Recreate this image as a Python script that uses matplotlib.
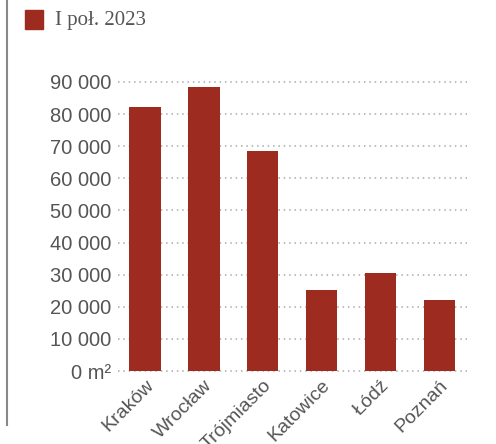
import matplotlib.pyplot as plt
import matplotlib.transforms as mtransforms
from matplotlib.lines import Line2D
from matplotlib.patches import Rectangle

cities = ["Kraków", "Wrocław", "Trójmiasto", "Katowice", "Łódź", "Poznań"]
values = [82200, 88500, 68500, 25300, 30600, 22200]
yticks = [0, 10000, 20000, 30000, 40000, 50000, 60000, 70000, 80000, 90000]
ytick_labels = ["0 m²", "10 000", "20 000", "30 000", "40 000", "50 000",
                "60 000", "70 000", "80 000", "90 000"]
legend_label = "I poł. 2023"

bar_color = "#9e2b1f"
text_color = "#555555"

fig = plt.figure(figsize=(4.96, 4.44), dpi=100)
ax = fig.add_axes([118 / 496, 73 / 444, 349 / 496, 289 / 444])

x = range(len(cities))
ax.bar(x, values, width=0.53, color=bar_color, zorder=3)

ax.set_xlim(-0.46, 5.47)
ax.set_ylim(0, 90000)
ax.set_yticks(yticks)
ax.set_yticklabels(ytick_labels, fontsize=14.5, color=text_color, family="Liberation Sans")
ax.set_xticks(list(x))
ax.set_xticklabels(cities, fontsize=14, color=text_color, family="Liberation Sans",
                   rotation=45, ha="right", rotation_mode="anchor")
offset = mtransforms.ScaledTranslation(9 / 100, 0, fig.dpi_scale_trans)
for lab in ax.get_xticklabels():
    lab.set_transform(lab.get_transform() + offset)

ax.tick_params(axis="both", length=0)
ax.tick_params(axis="y", pad=5)
ax.tick_params(axis="x", pad=4)
for s in ax.spines.values():
    s.set_visible(False)
ax.grid(axis="y", color="#aaaaaa", linestyle=(0, (1, 2.5)), linewidth=1.1, zorder=0)
for gl in ax.get_ygridlines():
    gl.set_clip_on(False)

# left vertical rule
fig.add_artist(Line2D([7 / 496, 7 / 496], [1.0, (444 - 425) / 444],
                      transform=fig.transFigure, color="#888888", linewidth=1.5))

# legend
fig.add_artist(Rectangle((25 / 496, (444 - 29) / 444), 18 / 496, 19 / 444,
                         transform=fig.transFigure, color=bar_color))
fig.text(55 / 496, (444 - 20) / 444, legend_label, fontsize=15, color=text_color,
         family="Liberation Serif", va="center", ha="left")

fig.savefig("out.png", dpi=100)
